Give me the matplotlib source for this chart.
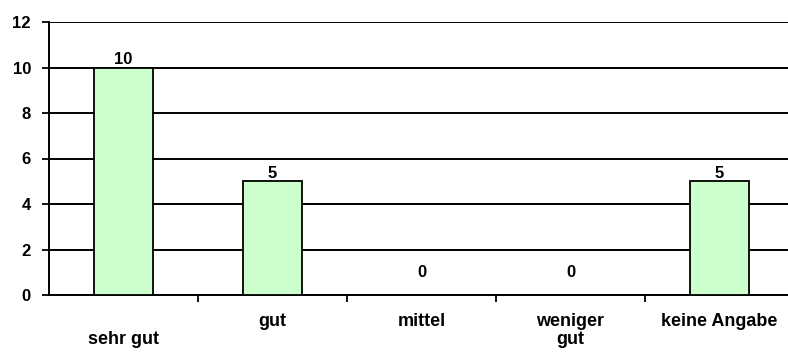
import numpy as np
from matplotlib import pyplot as plt

categories = ["\nsehr gut", "gut", "mittel", "weniger\ngut", "keine Angabe"]
counts = [10, 5, 0, 0, 5]
yticks = [0, 2, 4, 6, 8, 10, 12]

plt.rcParams['font.family'] = ['Liberation Sans', 'DejaVu Sans']
plt.rcParams['font.size'] = 13
plt.rcParams['font.weight'] = 'bold'

fig = plt.figure(figsize=(7.88, 3.58), dpi=100)
# axes runs slightly past the right edge, like the original
ax = fig.add_axes([49 / 788, 63 / 358, 745 / 788, 273 / 358])

x = np.arange(len(categories))
ax.set_axisbelow(True)
ax.bar(x, counts, width=0.4, color='#ccffcc', edgecolor='black', linewidth=1.3, zorder=3)

for xi, v in zip(x, counts):
    off = 11 if v == 0 else 0
    ax.annotate(str(v), (xi, v), xytext=(0, off), textcoords='offset points',
                ha='center', va='bottom', fontsize=12)

ax.set_xlim(-0.5, len(categories) - 0.5)
ax.set_ylim(0, 12)
ax.set_yticks(yticks)
ax.yaxis.grid(True, color='black', linewidth=1.4)

ax.set_xticks(x)
ax.set_xticklabels(categories, linespacing=1.05)
ax.set_xticks(x[:-1] + 0.5, minor=True)
ax.tick_params(axis='x', which='major', length=0, pad=13)
ax.tick_params(axis='x', which='minor', length=5, width=1.3, direction='out')
ax.tick_params(axis='y', length=5, width=1.3, pad=8, labelsize=12)

for s in ['top', 'right']:
    ax.spines[s].set_visible(False)
ax.spines['left'].set_linewidth(1.4)
ax.spines['bottom'].set_linewidth(1.4)

plt.savefig('out.png', dpi=100)
